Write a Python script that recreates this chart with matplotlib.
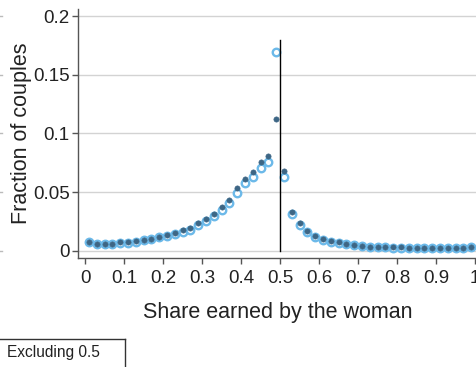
import matplotlib
matplotlib.use("Agg")
import matplotlib.pyplot as plt
from matplotlib.lines import Line2D
import numpy as np

plt.rcParams['font.family'] = ['Liberation Sans', 'DejaVu Sans']

share = [0.01, 0.03, 0.05, 0.07, 0.09, 0.11, 0.13, 0.15, 0.17, 0.19,
         0.21, 0.23, 0.25, 0.27, 0.29, 0.31, 0.33, 0.35, 0.37, 0.39,
         0.41, 0.43, 0.45, 0.47, 0.49, 0.51, 0.53, 0.55, 0.57, 0.59,
         0.61, 0.63, 0.65, 0.67, 0.69, 0.71, 0.73, 0.75, 0.77, 0.79,
         0.81, 0.83, 0.85, 0.87, 0.89, 0.91, 0.93, 0.95, 0.97, 0.99]

dark_vals = [0.0080, 0.0058, 0.0058, 0.0061, 0.0072, 0.0075, 0.0083, 0.0095, 0.0106, 0.0123,
             0.0137, 0.0152, 0.0177, 0.0196, 0.0241, 0.0275, 0.0315, 0.0377, 0.0437, 0.0534,
             0.0616, 0.0670, 0.0758, 0.0812, 0.1120, 0.0678, 0.0335, 0.0236, 0.0170, 0.0130,
             0.0105, 0.0085, 0.0074, 0.0060, 0.0051, 0.0043, 0.0036, 0.0034, 0.0032, 0.0031,
             0.0030, 0.0029, 0.0028, 0.0027, 0.0027, 0.0026, 0.0025, 0.0025, 0.0026, 0.0032]

light_vals = [0.0076, 0.0055, 0.0055, 0.0058, 0.0069, 0.0071, 0.0079, 0.0090, 0.0101, 0.0116,
              0.0130, 0.0145, 0.0163, 0.0182, 0.0224, 0.0256, 0.0295, 0.0352, 0.0406, 0.0497,
              0.0577, 0.0628, 0.0707, 0.0761, 0.1690, 0.0633, 0.0315, 0.0219, 0.0159, 0.0119,
              0.0094, 0.0078, 0.0068, 0.0055, 0.0047, 0.0040, 0.0034, 0.0032, 0.0030, 0.0029,
              0.0028, 0.0027, 0.0026, 0.0025, 0.0025, 0.0024, 0.0023, 0.0023, 0.0024, 0.0030]

x_ticks = [0, 0.1, 0.2, 0.3, 0.4, 0.5, 0.6, 0.7, 0.8, 0.9, 1]
x_tick_labels = ["0", "0.1", "0.2", "0.3", "0.4", "0.5", "0.6", "0.7", "0.8", "0.9", "1"]
y_ticks = [0, 0.05, 0.1, 0.15, 0.2]
y_tick_labels = ["0", "0.05", "0.1", "0.15", "0.2"]
threshold = 0.5
threshold_top = 0.18

fig = plt.figure(figsize=(4.77, 3.67), dpi=100)
ax = fig.add_axes([0.1635, 0.297, 0.8365, 0.6785])

ax.set_xlim(-0.018, 1.005)
ax.set_ylim(-0.006, 0.206)

for yv in y_ticks:
    ax.axhline(yv, color='#d3d3d3', lw=1.0, zorder=0)

ax.plot(share, light_vals, linestyle='none', marker='o', markersize=5.4,
        markerfacecolor='white', markeredgecolor='#6cb9e9', markeredgewidth=1.7, zorder=2)
ax.plot(share, dark_vals, linestyle='none', marker='o', markersize=3.8,
        markerfacecolor='#3d6685', markeredgecolor='#3d6685', markeredgewidth=0.4, zorder=3)

ax.plot([threshold, threshold], [0, threshold_top], color='black', lw=1.0, zorder=4)

ax.set_xticks(x_ticks)
ax.set_xticklabels(x_tick_labels)
ax.set_yticks(y_ticks)
ax.set_yticklabels(y_tick_labels)

for s in ['top', 'right']:
    ax.spines[s].set_visible(False)
for s in ['left', 'bottom']:
    ax.spines[s].set_color('#555555')
    ax.spines[s].set_linewidth(1.0)

ax.tick_params(axis='both', direction='out', length=4, width=1.0, color='#555555',
               labelsize=13.5, labelcolor='#222222')
ax.tick_params(axis='y', pad=2)
ax.tick_params(axis='x', pad=4.5)

ax.set_ylabel('Fraction of couples', fontsize=15.5, color='#222222', labelpad=0.8)
ax.set_xlabel('Share earned by the woman', fontsize=15.5, color='#222222', labelpad=11)

# legend tab box at the lower left
fig.add_artist(Line2D([0, 125.5 / 477], [1 - 339 / 367, 1 - 339 / 367], color='#333333', lw=1.0))
fig.add_artist(Line2D([125.5 / 477, 125.5 / 477], [1 - 339 / 367, 0], color='#333333', lw=1.0))
fig.text(7 / 477, 1 - 353 / 367, 'Excluding 0.5', fontsize=11.2, color='#222222',
         ha='left', va='center')

# edges of the neighbouring panel's gridlines at the far left
for yv in y_ticks:
    yf = 0.297 + 0.6785 * (yv + 0.006) / 0.212
    fig.add_artist(Line2D([0, 2 / 477], [yf, yf], color='#bbbbbb', lw=1.0))

fig.savefig('out.png', dpi=100)
